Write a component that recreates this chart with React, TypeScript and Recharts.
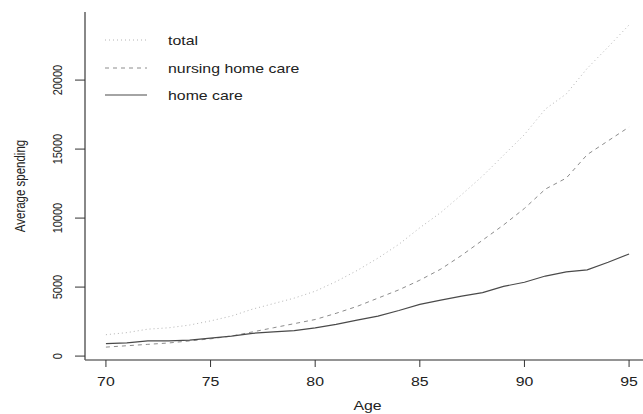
import React from "react";
import { LineChart, Line, XAxis, YAxis, Legend, Label } from "recharts";

const ages = [70, 71, 72, 73, 74, 75, 76, 77, 78, 79, 80, 81, 82, 83, 84, 85, 86, 87, 88, 89, 90, 91, 92, 93, 94, 95];
const homeCare = [900, 950, 1100, 1100, 1150, 1300, 1450, 1650, 1750, 1850, 2050, 2300, 2600, 2900, 3300, 3750, 4050, 4350, 4600, 5050, 5350, 5800, 6100, 6250, 6800, 7400];
const nursingHomeCare = [650, 750, 850, 950, 1100, 1250, 1450, 1750, 2050, 2350, 2650, 3100, 3600, 4200, 4800, 5500, 6300, 7300, 8400, 9500, 10700, 12100, 12900, 14600, 15600, 16600];
const total = [1550, 1700, 1950, 2050, 2250, 2550, 2900, 3400, 3800, 4200, 4700, 5400, 6200, 7100, 8100, 9300, 10400, 11700, 13050, 14550, 16050, 17900, 19000, 20850, 22400, 24000];

const xTicks = [70, 75, 80, 85, 90, 95];
const yTicks = [0, 5000, 10000, 15000, 20000];
const seriesNames = ["total", "nursing home care", "home care"];

const data = ages.map((age, i) => ({
  age,
  total: total[i],
  nursing: nursingHomeCare[i],
  home: homeCare[i],
}));

const FONT = "'Liberation Sans', Arial, Helvetica, sans-serif";
const TEXT = "#222";
const STRETCH = 1.22;

const styles = [
  { key: "total", stroke: "#b4b4b4", dash: "1 3", width: 1 },
  { key: "nursing", stroke: "#8c8c8c", dash: "4 4", width: 1 },
  { key: "home", stroke: "#4a4a4a", dash: undefined, width: 1.2 },
];

function XTick(props: any) {
  const { x, y, payload } = props;
  return (
    <text
      transform={`translate(${x},${y + 17}) scale(${STRETCH},1)`}
      textAnchor="middle"
      fontFamily={FONT}
      fontSize={13}
      fill={TEXT}
    >
      {payload.value}
    </text>
  );
}

function YTick(props: any) {
  const { x, y, payload } = props;
  return (
    <text
      transform={`translate(${x - 11.5},${y}) scale(${STRETCH},1) rotate(-90)`}
      textAnchor="middle"
      fontFamily={FONT}
      fontSize={11}
      fill={TEXT}
    >
      {payload.value}
    </text>
  );
}

function LegendBox() {
  const rows = [40, 68, 95];
  return (
    <svg width={330} height={110} style={{ display: "block" }}>
      {styles.map((s, i) => (
        <g key={s.key}>
          <line
            x1={105}
            x2={147}
            y1={rows[i]}
            y2={rows[i]}
            stroke={s.stroke}
            strokeWidth={s.width}
            strokeDasharray={s.dash}
          />
          <text
            transform={`translate(168,${rows[i] + 4.7}) scale(${STRETCH},1)`}
            fontFamily={FONT}
            fontSize={13}
            fill={TEXT}
          >
            {seriesNames[i]}
          </text>
        </g>
      ))}
    </svg>
  );
}

export default function App() {
  return (
    <div
      style={{
        position: "fixed",
        left: 0,
        top: 0,
        width: 643,
        height: 414,
        overflow: "hidden",
        background: "#fff",
      }}
    >
      <LineChart
        width={660}
        height={414}
        data={data}
        margin={{ top: 12, right: 10, bottom: 4, left: 0 }}
      >
        <XAxis
          xAxisId="top"
          orientation="top"
          dataKey="age"
          type="number"
          domain={[69, 96]}
          allowDataOverflow
          height={0}
          tick={false}
          tickLine={false}
          axisLine={{ stroke: "#808080", strokeWidth: 1.5 }}
        />
        <XAxis
          dataKey="age"
          type="number"
          domain={[69, 96]}
          allowDataOverflow
          ticks={xTicks}
          height={50}
          tickSize={7}
          tickMargin={2}
          tick={<XTick />}
          tickLine={{ stroke: "#333" }}
          axisLine={{ stroke: "#707070", strokeWidth: 1.5 }}
          label={
            <Label
              content={(p: any) => {
                const vb = p.viewBox;
                return (
                  <text
                    transform={`translate(${vb.x + vb.width / 2},410) scale(${STRETCH},1)`}
                    textAnchor="middle"
                    fontFamily={FONT}
                    fontSize={13}
                    fill={TEXT}
                  >
                    Age
                  </text>
                );
              }}
            />
          }
        />
        <YAxis
          type="number"
          domain={[-284, 24934]}
          allowDataOverflow
          ticks={yTicks}
          width={85}
          tickSize={10}
          tickMargin={2}
          tick={<YTick />}
          tickLine={{ stroke: "#333" }}
          axisLine={{ stroke: "#606060", strokeWidth: 1.5 }}
          label={
            <Label
              content={(p: any) => {
                const vb = p.viewBox;
                return (
                  <text
                    transform={`translate(25,${vb.y + vb.height / 2}) scale(${STRETCH},1) rotate(-90)`}
                    textAnchor="middle"
                    fontFamily={FONT}
                    fontSize={11.5}
                    fill={TEXT}
                  >
                    Average spending
                  </text>
                );
              }}
            />
          }
        />
        <Legend
          layout="vertical"
          verticalAlign="middle"
          align="center"
          content={<LegendBox />}
          wrapperStyle={{ position: "absolute", left: 0, top: 0, width: 330, height: 110 }}
        />
        {styles.map((s) => (
          <Line
            key={s.key}
            type="linear"
            dataKey={s.key}
            stroke={s.stroke}
            strokeWidth={s.width}
            strokeDasharray={s.dash}
            dot={false}
            activeDot={false}
            isAnimationActive={false}
          />
        ))}
      </LineChart>
    </div>
  );
}
